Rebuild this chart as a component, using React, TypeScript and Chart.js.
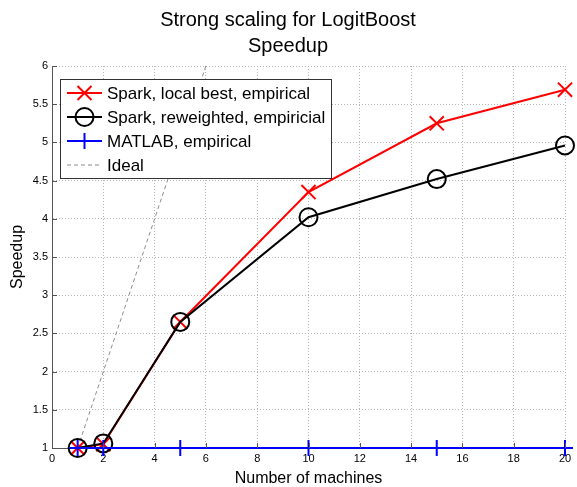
import { useEffect, useRef } from 'react';
import { Chart, registerables } from 'chart.js';

Chart.register(...registerables);

const machines = [1, 2, 5, 10, 15, 20];
const sparkLocalBest = [1, 1.05, 2.65, 4.35, 5.25, 5.69];
const sparkReweighted = [1, 1.06, 2.65, 4.02, 4.52, 4.96];
const matlabEmpirical = [1, 1, 1, 1, 1, 1];
const idealX = [1, 6];
const idealY = [1, 6];

const titleLines = ['Strong scaling for LogitBoost', 'Speedup'];
const xLabel = 'Number of machines';
const yLabel = 'Speedup';
const legendLabels = [
  'Spark, local best, empirical',
  'Spark, reweighted, empiricial',
  'MATLAB, empirical',
  'Ideal',
];

const FONT = '"Liberation Sans", Arial, Helvetica, sans-serif';

function drawMarker(ctx: CanvasRenderingContext2D, kind: string, x: number, y: number) {
  ctx.beginPath();
  if (kind === 'x') {
    ctx.moveTo(x - 7, y - 7);
    ctx.lineTo(x + 7, y + 7);
    ctx.moveTo(x + 7, y - 7);
    ctx.lineTo(x - 7, y + 7);
  } else if (kind === 'o') {
    ctx.arc(x, y, 9, 0, Math.PI * 2);
  } else if (kind === '+') {
    ctx.moveTo(x - 8, y);
    ctx.lineTo(x + 8, y);
    ctx.moveTo(x, y - 8);
    ctx.lineTo(x, y + 8);
  }
  ctx.stroke();
}

const overlayPlugin = {
  id: 'overlay',
  afterDraw(chart: any) {
    const ctx: CanvasRenderingContext2D = chart.ctx;
    const area = chart.chartArea;
    const xs = chart.scales.x;
    const ys = chart.scales.y;
    ctx.save();
    // inward ticks
    ctx.strokeStyle = '#555';
    ctx.lineWidth = 1;
    ctx.setLineDash([]);
    ctx.beginPath();
    xs.ticks.forEach((t: any) => {
      const px = Math.round(xs.getPixelForValue(t.value)) + 0.5;
      ctx.moveTo(px, area.bottom);
      ctx.lineTo(px, area.bottom - 5);
    });
    ys.ticks.forEach((t: any) => {
      const py = Math.round(ys.getPixelForValue(t.value)) + 0.5;
      ctx.moveTo(area.left, py);
      ctx.lineTo(area.left + 5, py);
    });
    ctx.stroke();

    // titles
    ctx.fillStyle = '#000';
    ctx.textAlign = 'center';
    ctx.textBaseline = 'middle';
    ctx.font = `20px ${FONT}`;
    ctx.fillText(titleLines[0], 288, 20);
    ctx.fillText(titleLines[1], 288, 46);
    ctx.font = `16px ${FONT}`;
    ctx.fillText(xLabel, (area.left + area.right) / 2, 479);
    ctx.save();
    ctx.translate(18, (area.top + area.bottom) / 2);
    ctx.rotate(-Math.PI / 2);
    ctx.fillText(yLabel, 0, 0);
    ctx.restore();

    // legend
    const bx = 60.5, by = 79.5, bw = 271, bh = 99;
    ctx.fillStyle = '#fff';
    ctx.fillRect(bx, by, bw, bh);
    ctx.strokeStyle = '#333';
    ctx.lineWidth = 1;
    ctx.strokeRect(bx, by, bw, bh);
    const rows = [93, 117, 141, 165];
    const colors = ['#ff0000', '#000000', '#0000ff', '#8c8c8c'];
    const markers = ['x', 'o', '+', ''];
    rows.forEach((ry, i) => {
      ctx.strokeStyle = colors[i];
      ctx.lineWidth = i === 3 ? 1 : 2;
      ctx.setLineDash(i === 3 ? [4, 3] : []);
      ctx.beginPath();
      ctx.moveTo(67, ry);
      ctx.lineTo(102, ry);
      ctx.stroke();
      ctx.setLineDash([]);
      if (markers[i]) drawMarker(ctx, markers[i], 84.5, ry);
      ctx.fillStyle = '#000';
      ctx.textAlign = 'left';
      ctx.font = `17px ${FONT}`;
      ctx.fillText(legendLabels[i], 107, ry + 1);
    });
    ctx.restore();
  },
};

export default function App() {
  const ref = useRef<HTMLCanvasElement>(null);
  useEffect(() => {
    document.body.style.margin = '0';
    const canvas = ref.current!;
    const gridColor = '#b4b4b4';
    const chart = new Chart(canvas, {
      type: 'line',
      data: {
        datasets: [
          {
            label: legendLabels[3],
            data: idealX.map((x, i) => ({ x, y: idealY[i] })),
            borderColor: '#8c8c8c',
            borderWidth: 1,
            borderDash: [4, 3],
            pointRadius: 0,
            fill: false,
            clip: false,
            order: 4,
          },
          {
            label: legendLabels[0],
            data: machines.map((x, i) => ({ x, y: sparkLocalBest[i] })),
            borderColor: '#ff0000',
            borderWidth: 2,
            pointStyle: 'crossRot',
            pointRadius: 10,
            pointBorderWidth: 2,
            pointBorderColor: '#ff0000',
            pointBackgroundColor: 'transparent',
            fill: false,
            clip: false,
            order: 3,
          },
          {
            label: legendLabels[1],
            data: machines.map((x, i) => ({ x, y: sparkReweighted[i] })),
            borderColor: '#000000',
            borderWidth: 2,
            pointStyle: 'circle',
            pointRadius: 9,
            pointBorderWidth: 2,
            pointBorderColor: '#000000',
            pointBackgroundColor: 'transparent',
            fill: false,
            clip: false,
            order: 2,
          },
          {
            label: legendLabels[2],
            data: machines.map((x, i) => ({ x, y: matlabEmpirical[i] })),
            borderColor: '#0000ff',
            borderWidth: 2,
            pointStyle: 'cross',
            pointRadius: 8,
            pointBorderWidth: 2,
            pointBorderColor: '#0000ff',
            pointBackgroundColor: 'transparent',
            fill: false,
            clip: false,
            order: 1,
          },
        ],
      },
      options: {
        responsive: false,
        animation: false,
        devicePixelRatio: 1,
        layout: { padding: { top: 66, right: 9, left: 0, bottom: 0 } },
        plugins: {
          legend: { display: false },
          title: { display: false },
          tooltip: { enabled: false },
        },
        scales: {
          x: {
            type: 'linear',
            min: 0,
            max: 20,
            ticks: {
              stepSize: 2,
              color: '#000',
              font: { family: FONT, size: 11 },
              padding: 4,
              maxRotation: 0,
              callback: (v: any) => String(v),
            },
            grid: { color: gridColor, drawTicks: false, lineWidth: 1 },
            border: { display: true, color: '#555', width: 1, dash: [1, 2] },
            afterFit: (s: any) => {
              s.height = 39;
            },
          },
          y: {
            type: 'linear',
            min: 1,
            max: 6,
            ticks: {
              stepSize: 0.5,
              color: '#000',
              font: { family: FONT, size: 11 },
              padding: 4,
              callback: (v: any) => String(v),
            },
            grid: { color: gridColor, drawTicks: false, lineWidth: 1 },
            border: { display: true, color: '#555', width: 1, dash: [1, 2] },
            afterFit: (s: any) => {
              s.width = 52;
            },
          },
        },
      },
      plugins: [overlayPlugin],
    });
    return () => chart.destroy();
  }, []);
  return (
    <div style={{ width: 577, height: 487, background: '#fff' }}>
      <canvas ref={ref} width={577} height={487} style={{ display: 'block' }} />
    </div>
  );
}
